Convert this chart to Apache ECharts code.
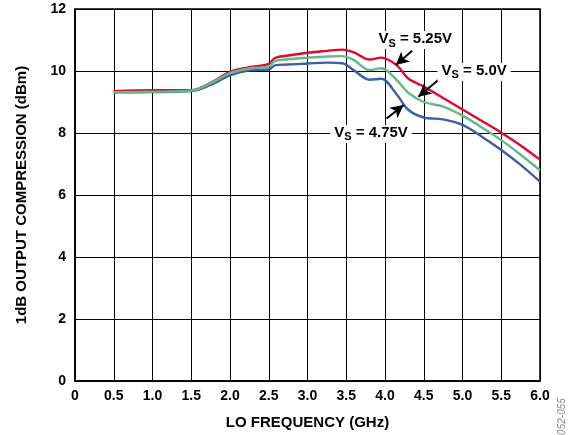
<!DOCTYPE html>
<html>
<head>
<meta charset="utf-8">
<script src="https://cdn.jsdelivr.net/npm/echarts@6/dist/echarts.min.js"></script>
<style>html,body{margin:0;padding:0;background:#fff}#c{width:574px;height:435px}</style>
</head>
<body>
<div id="c"></div>
<script>
var freq = [0.5,1.0,1.5,1.75,2.0,2.25,2.5,2.58,2.75,3.0,3.25,3.45,3.6,3.8,3.95,4.15,4.3,4.5,4.75,5.0,5.25,5.5,5.75,6.0];
var vs525 = [9.35,9.38,9.38,9.62,9.97,10.12,10.23,10.42,10.5,10.59,10.65,10.69,10.6,10.37,10.43,10.19,9.76,9.5,9.13,8.76,8.39,8.01,7.6,7.14];
var vs500 = [9.32,9.33,9.37,9.6,9.93,10.08,10.15,10.32,10.38,10.43,10.47,10.48,10.35,10.03,10.09,9.71,9.3,9.0,8.85,8.56,8.18,7.77,7.3,6.8];
var vs475 = [9.31,9.32,9.35,9.55,9.86,10.02,10.05,10.18,10.21,10.24,10.27,10.25,10.02,9.72,9.75,9.25,8.75,8.5,8.44,8.26,7.88,7.45,6.97,6.43];
var xTicks = ['0','0.5','1.0','1.5','2.0','2.5','3.0','3.5','4.0','4.5','5.0','5.5','6.0'];
var yTicks = ['0','2','4','6','8','10','12'];
var labels = [
  {name:'5.25V', at:[4.39,11.0], tail:[4.35,10.65], tip:[4.14,10.19]},
  {name:'5.0V', at:[5.15,9.97], tail:[4.71,9.76], tip:[4.43,9.17]},
  {name:'4.75V', at:[3.82,7.97], tail:[4.02,8.47], tip:[4.24,8.9]}
];

function pairs(ys){ return freq.map(function(f,i){ return [f, ys[i]]; }); }
var font = '"Liberation Sans", Arial, sans-serif';

var chart = echarts.init(document.getElementById('c'), null, {renderer:'canvas'});
var lineW = 2.4;
var option = {
  animation:false,
  backgroundColor:'#fff',
  grid:{left:75,right:34,top:9,bottom:54,show:true,borderColor:'#000',borderWidth:1.5,backgroundColor:'transparent'},
  xAxis:{
    type:'value',min:0,max:6,interval:0.5,
    name:'LO FREQUENCY (GHz)',nameLocation:'middle',nameGap:34,
    nameTextStyle:{fontFamily:font,fontWeight:'bold',fontSize:15,color:'#000'},
    axisLine:{show:true,lineStyle:{color:'#000',width:1.5}},
    axisTick:{show:false},
    splitLine:{show:true,lineStyle:{color:'#000',width:1}},
    axisLabel:{margin:8,fontFamily:font,fontWeight:'bold',fontSize:14,color:'#000',
      formatter:function(v){ return xTicks[Math.round(v/0.5)]; }}
  },
  yAxis:{
    type:'value',min:0,max:12,interval:2,
    name:'1dB OUTPUT COMPRESSION (dBm)',nameLocation:'middle',nameGap:46,
    nameTextStyle:{fontFamily:font,fontWeight:'bold',fontSize:15,color:'#000'},
    axisLine:{show:true,lineStyle:{color:'#000',width:1.5}},
    axisTick:{show:false},
    splitLine:{show:true,lineStyle:{color:'#000',width:1}},
    axisLabel:{margin:9,fontFamily:font,fontWeight:'bold',fontSize:14,color:'#000',
      formatter:function(v){ return yTicks[Math.round(v/2)]; }}
  },
  series:[
    {name:'VS = 4.75V',type:'line',data:pairs(vs475),smooth:0.35,showSymbol:false,lineStyle:{color:'#3b5ea8',width:lineW},z:3},
    {name:'VS = 5.25V',type:'line',data:pairs(vs525),smooth:0.35,showSymbol:false,lineStyle:{color:'#e3062c',width:lineW},z:3},
    {name:'VS = 5.0V',type:'line',data:pairs(vs500),smooth:0.35,showSymbol:false,lineStyle:{color:'#63b98a',width:lineW},z:3},
    {name:'annot',type:'line',data:[],z:10,
      markLine:{silent:true,animation:false,symbol:['none','arrow'],symbolSize:[10,13],
        lineStyle:{color:'#000',width:2,type:'solid'},label:{show:false},
        data:labels.map(function(l){ return [{coord:l.tail},{coord:l.tip}]; })},
      markPoint:{silent:true,animation:false,symbol:'circle',symbolSize:0,
        data:labels.map(function(l){ return {coord:l.at,value:l.name}; }),
        label:{show:true,position:'inside',backgroundColor:'#fff',padding:[0,4,0,4],
          formatter:function(p){ return '{v|V}{s|S}{v| = '+p.value+'}'; },
          rich:{
            v:{fontFamily:font,fontWeight:'bold',fontSize:15,color:'#000',lineHeight:13,verticalAlign:'top'},
            s:{fontFamily:font,fontWeight:'bold',fontSize:11,color:'#000',lineHeight:18,verticalAlign:'bottom'}
          }}
      }
    }
  ],
  graphic:[
    {type:'text',x:567,y:446,rotation:Math.PI/2,
      style:{text:'07052-055',fontFamily:font,fontSize:10,fill:'#888',fontStyle:'italic',textVerticalAlign:'bottom'}}
  ]
};
chart.setOption(option);
</script>
</body>
</html>
